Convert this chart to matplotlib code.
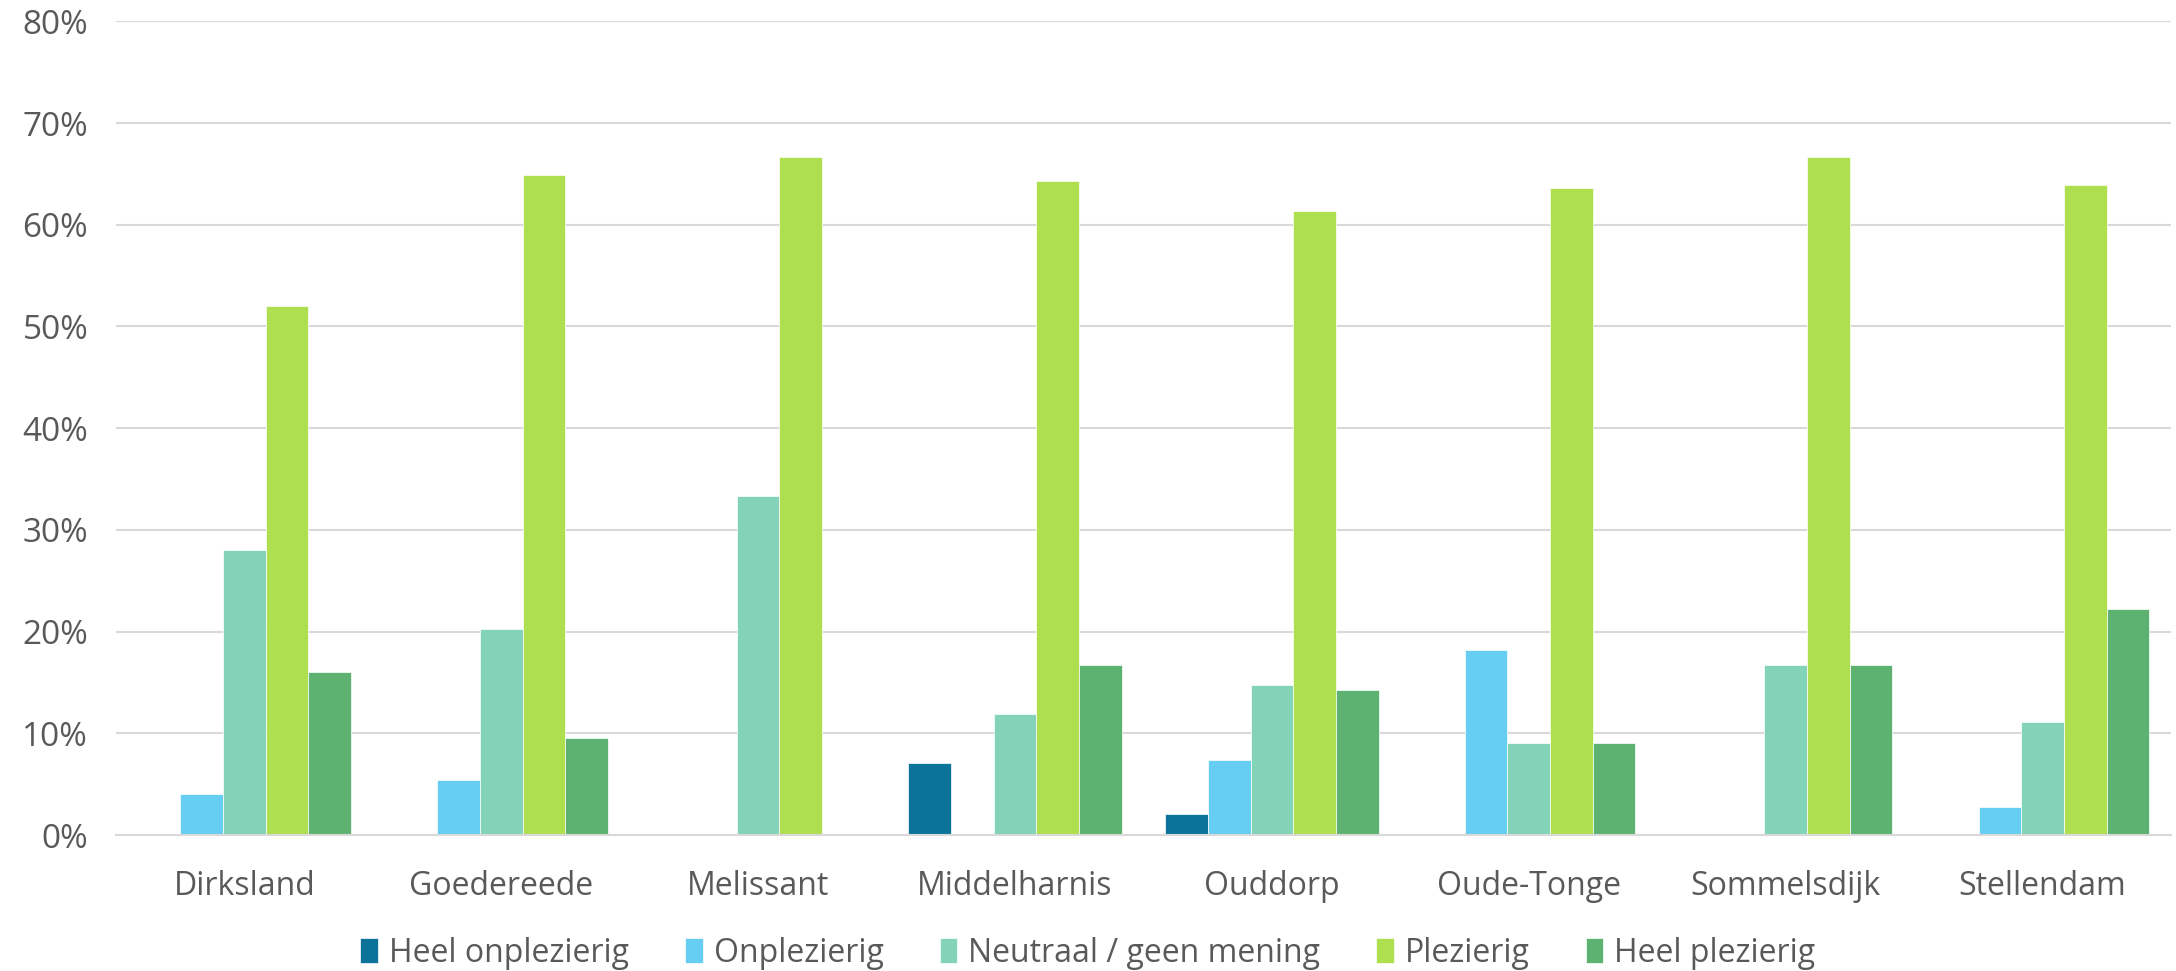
import numpy as np
import matplotlib
matplotlib.use('Agg')
import matplotlib.pyplot as plt
from matplotlib.ticker import FuncFormatter

plt.rcParams['font.family'] = ['Open Sans', 'DejaVu Sans']

places = ['Dirksland', 'Goedereede', 'Melissant', 'Middelharnis',
          'Ouddorp', 'Oude-Tonge', 'Sommelsdijk', 'Stellendam']
series = ['Heel onplezierig', 'Onplezierig', 'Neutraal / geen mening',
          'Plezierig', 'Heel plezierig']

heel_onplezierig = [0.0, 0.0, 0.0, 7.1, 2.1, 0.0, 0.0, 0.0]
onplezierig = [4.0, 5.4, 0.0, 0.0, 7.4, 18.2, 0.0, 2.8]
neutraal = [28.0, 20.3, 33.3, 11.9, 14.8, 9.1, 16.7, 11.1]
plezierig = [52.0, 64.9, 66.7, 64.3, 61.4, 63.6, 66.7, 63.9]
heel_plezierig = [16.0, 9.5, 0.0, 16.7, 14.3, 9.1, 16.7, 22.2]

values = [heel_onplezierig, onplezierig, neutraal, plezierig, heel_plezierig]
colors = ['#0B7399', '#66CDF3', '#82D3B8', '#AEDF4F', '#5EB271']

fig = plt.figure(figsize=(21.76, 9.71), dpi=100)
ax = fig.add_axes([0.0533, 0.140, 0.9444, 0.838])

x = np.arange(len(places))
w = 0.166
for i, (name, vals, c) in enumerate(zip(series, values, colors)):
    ax.bar(x + (i - 2) * w, np.array(vals) / 100, width=w, color=c,
           edgecolor='white', linewidth=0.5, label=name, zorder=2)

ax.set_xlim(-0.5, len(places) - 0.5)
ax.set_ylim(0, 0.8)
ax.set_yticks(np.arange(0, 0.81, 0.1))
ax.yaxis.set_major_formatter(FuncFormatter(lambda v, p: f'{v * 100:.0f}%'))
ax.set_xticks(x)
ax.set_xticklabels(places)
ax.grid(axis='y', color='#D9D9D9', linewidth=1.5, zorder=0)
for s in ['top', 'right', 'left']:
    ax.spines[s].set_visible(False)
ax.spines['bottom'].set_color('#D9D9D9')
ax.spines['bottom'].set_linewidth(1.5)
ax.tick_params(axis='both', length=0, colors='#595959', labelsize=23)
ax.tick_params(axis='y', pad=20, labelsize=24)
ax.tick_params(axis='x', pad=25)

fig.legend(loc='center', bbox_to_anchor=(0.5, 0.0185), ncol=5, frameon=False,
           fontsize=23, handlelength=0.55, handleheight=0.8, handletextpad=0.35,
           columnspacing=1.75, labelcolor='#595959')

fig.savefig('out.png', dpi=100)
